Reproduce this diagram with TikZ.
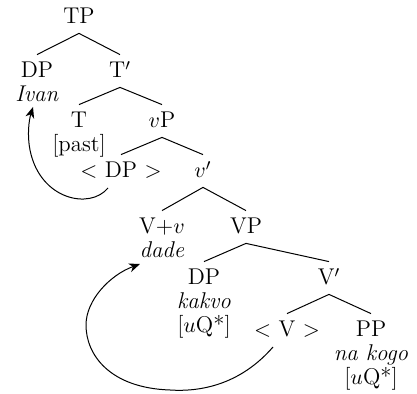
\documentclass[tikz,border=0pt]{standalone}
\usetikzlibrary{arrows.meta}
\begin{document}
\begin{tikzpicture}[x=0.5pt,y=-0.5pt,
  every node/.style={font=\fontsize{11.4pt}{12pt}\selectfont},
  cat/.style={anchor=base,inner xsep=0pt,inner ysep=4.5pt,text height=7pt,text depth=0pt},
  feat/.style={anchor=base,inner sep=0pt},
  branch/.style={line width=0.5pt},
  move/.style={line width=0.5pt,-{Stealth[length=5.5pt,width=4.5pt,inset=1.7pt]}}]
\useasboundingbox (0,0) rectangle (417,394);
% categories
\node[cat] (tp)  at (79,24)   {TP};
\node[cat] (dp1) at (37,78)   {DP};
\node[feat] (ivan) at (37,102) {\textit{Ivan}};
\node[cat] (tb)  at (120,78)  {T$'$};
\node[cat] (t)   at (79,128)  {T};
\node[feat] (past) at (79,152) {[past]};
\node[cat] (vp)  at (162,128) {$v$P};
\node[cat] (dpt) at (121,178) {$<$ DP $>$};
\node[cat] (vb)  at (203,178) {$v'$};
\node[cat] (vv)  at (162,234) {V+$v$};
\node[feat] (dade) at (162,258) {\textit{dade}};
\node[cat] (VP)  at (246,234) {VP};
\node[cat] (dp2) at (204,285) {DP};
\node[feat] (kakvo) at (204,309) {\textit{kakvo}};
\node[feat] (uq1) at (204,333) {[$u$Q*]};
\node[cat] (Vb)  at (329,285) {V$'$};
\node[cat] (vt)  at (287,337) {$<$ V $>$};
\node[cat] (pp)  at (371,337) {PP};
\node[feat] (nakogo) at (371,361) {\textit{na kogo}};
\node[feat] (uq2) at (371,385) {[$u$Q*]};
% branches
\draw[branch] (dp1.north) -- (tp.south) -- (tb.north);
\draw[branch] (t.north) -- (tb.south) -- (vp.north);
\draw[branch] (dpt.north) -- (vp.south) -- (vb.north);
\draw[branch] (vv.north) -- (vb.south) -- (VP.north);
\draw[branch] (dp2.north) -- (VP.south) -- (Vb.north);
\draw[branch] (vt.north) -- (Vb.south) -- (pp.north);
% movement arrows
\draw[move] ([shift={(-13,10)}]dpt.base) .. controls (90,210) and (40,200) .. (30,150)
  .. controls (27,135) and (29,120) .. ([shift={(-4,5)}]ivan.base);
\draw[move] ([shift={(-14,10)}]vt.base) .. controls (240,385) and (200,392) .. (170,390)
  .. controls (110,388) and (86,355) .. (86,325)
  .. controls (86,300) and (110,275) .. ([shift={(-22,6)}]dade.base);
\end{tikzpicture}
\end{document}
